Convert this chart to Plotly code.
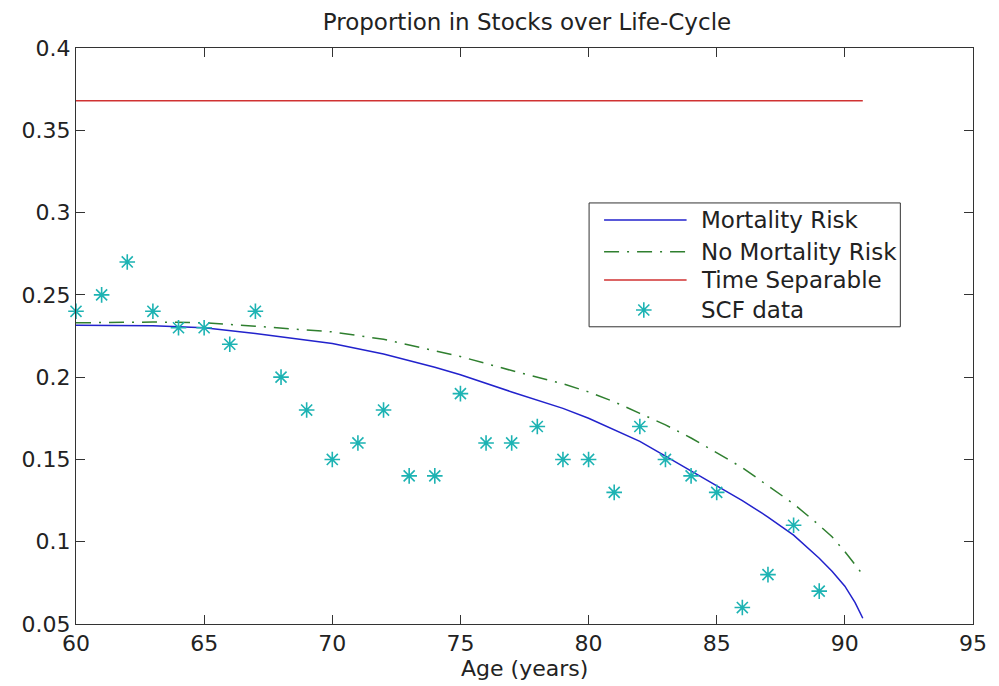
import plotly.graph_objects as go

# Model ages and simulated stock shares
model_age = [60, 62, 63, 65, 67, 70, 72, 74, 75, 77, 78, 79, 80, 81, 82, 83, 84,
             85, 86, 87, 88, 89, 89.5, 90, 90.4, 90.7]
mortality_risk = [0.2315, 0.2315, 0.2313, 0.2300, 0.2265, 0.2205, 0.2140, 0.2060,
                  0.2015, 0.1910, 0.1860, 0.1810, 0.1750, 0.1680, 0.1610, 0.1520,
                  0.1430, 0.1340, 0.1250, 0.1150, 0.1040, 0.0900, 0.0820, 0.0730,
                  0.0630, 0.0535]
no_mortality_risk = [0.2330, 0.2335, 0.2335, 0.2330, 0.2310, 0.2275, 0.2230, 0.2160,
                     0.2125, 0.2040, 0.2000, 0.1960, 0.1910, 0.1850, 0.1780, 0.1710,
                     0.1630, 0.1540, 0.1450, 0.1340, 0.1230, 0.1100, 0.1030, 0.0940,
                     0.0860, 0.0800]

# Time separable benchmark (constant share)
time_sep_age = [60, 90.7]
time_separable = [0.368, 0.368]

# Survey of Consumer Finances observations
scf_age = list(range(60, 90))
scf_share = [0.24, 0.25, 0.27, 0.24, 0.23, 0.23, 0.22, 0.24, 0.20, 0.18,
             0.15, 0.16, 0.18, 0.14, 0.14, 0.19, 0.16, 0.16, 0.17, 0.15,
             0.15, 0.13, 0.17, 0.15, 0.14, 0.13, 0.06, 0.08, 0.11, 0.07]

x_ticks = [60, 65, 70, 75, 80, 85, 90, 95]
y_ticks = [0.05, 0.1, 0.15, 0.2, 0.25, 0.3, 0.35, 0.4]
y_tick_text = ["0.05", "0.1", "0.15", "0.2", "0.25", "0.3", "0.35", "0.4"]

BLUE = "#2222cc"
GREEN = "#2f7f2f"
RED = "#d03232"
CYAN = "#1db3b3"
AXIS = "#333333"
TEXT = "#222222"
FONT = "DejaVu Sans"
FS = 22
DASHDOT = "15px,8px,2px,8px"
STAR = dict(symbol="asterisk-open", size=13, color=CYAN, line=dict(color=CYAN, width=1.6))

fig = go.Figure()
fig.add_trace(go.Scatter(x=model_age, y=mortality_risk, mode="lines",
                         line=dict(color=BLUE, width=1.5), showlegend=False))
fig.add_trace(go.Scatter(x=model_age, y=no_mortality_risk, mode="lines",
                         line=dict(color=GREEN, width=1.5, dash=DASHDOT), showlegend=False))
fig.add_trace(go.Scatter(x=time_sep_age, y=time_separable, mode="lines",
                         line=dict(color=RED, width=1.5), showlegend=False))
fig.add_trace(go.Scatter(x=scf_age, y=scf_share, mode="markers", marker=STAR,
                         showlegend=False, cliponaxis=False))

# Boxed legend in the upper right of the axes
leg_x0, leg_x1 = 0.572, 0.919
leg_y0, leg_y1 = 0.516, 0.731
rows = [0.7014, 0.6464, 0.5972, 0.5451]
labels = ["Mortality Risk", "No Mortality Risk", "Time Separable", "SCF data"]
shapes = [dict(type="rect", xref="paper", yref="paper", x0=leg_x0, x1=leg_x1,
               y0=leg_y0, y1=leg_y1, line=dict(color=AXIS, width=1),
               fillcolor="rgba(0,0,0,0)", layer="above")]
for ry, col, dash in zip(rows[:3], [BLUE, GREEN, RED], ["solid", DASHDOT, "solid"]):
    shapes.append(dict(type="line", xref="paper", yref="paper", x0=0.5887, x1=0.6807,
                       y0=ry, y1=ry, line=dict(color=col, width=1.5, dash=dash),
                       layer="above"))
annotations = [dict(x=0.694, y=ry, xref="paper", yref="paper", text=t, showarrow=False,
                    xanchor="left", yanchor="middle",
                    font=dict(family=FONT, size=FS + 1, color=TEXT))
               for ry, t in zip(rows, labels)]
annotations.append(dict(x=0.5, y=-0.0764, xref="paper", yref="paper", text="Age (years)",
                        showarrow=False, xanchor="center", yanchor="middle",
                        font=dict(family=FONT, size=FS, color=TEXT)))

fig.add_trace(go.Scatter(x=[0.633], y=[rows[3]], xaxis="x2", yaxis="y2", mode="markers",
                         marker=STAR, showlegend=False, hoverinfo="skip"))

fig.update_layout(
    width=999, height=686,
    margin=dict(l=76, r=20, t=48, b=62),
    paper_bgcolor="white", plot_bgcolor="white",
    showlegend=False,
    title=dict(text="Proportion in Stocks over Life-Cycle", x=0.5275, xanchor="center",
               y=0.968, yanchor="middle",
               font=dict(family=FONT, size=FS + 1, color=TEXT)),
    font=dict(family=FONT, size=FS, color=TEXT),
    xaxis=dict(range=[60, 95], tickvals=x_ticks, ticks="inside", ticklen=9,
               tickcolor=AXIS, showline=True, linecolor=AXIS, linewidth=1,
               mirror="ticks", showgrid=False, zeroline=False,
               tickfont=dict(family=FONT, size=FS, color=TEXT)),
    yaxis=dict(range=[0.05, 0.4], tickvals=y_ticks, ticktext=y_tick_text,
               ticks="inside", ticklen=9, tickcolor=AXIS, showline=True,
               linecolor=AXIS, linewidth=1, mirror="ticks", showgrid=False,
               zeroline=False, tickfont=dict(family=FONT, size=FS, color=TEXT)),
    xaxis2=dict(overlaying="x", range=[0, 1], visible=False),
    yaxis2=dict(overlaying="y", range=[0, 1], visible=False),
    shapes=shapes,
    annotations=annotations,
)

fig.write_html("out.html")
